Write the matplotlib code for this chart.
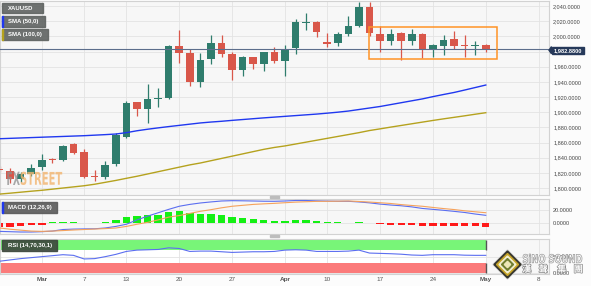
import matplotlib
matplotlib.use("Agg")
import matplotlib.pyplot as plt
import matplotlib.patheffects as pe
import numpy as np
import pandas as pd
from matplotlib.patches import Rectangle, Polygon, PathPatch
from matplotlib.textpath import TextPath
from matplotlib.font_manager import FontProperties
from matplotlib.transforms import Affine2D
from matplotlib.ticker import FuncFormatter

plt.rcParams['font.family'] = ['Liberation Sans', 'DejaVu Sans']

# trading days (Good Friday closed)
calendar = pd.bdate_range("2023-02-23", "2023-05-12").drop(pd.Timestamp("2023-04-07"))

# XAU/USD daily candles, Feb 23 .. May 1
opens = [1825, 1822.8, 1811.4, 1818, 1827.3, 1838, 1837, 1857.6, 1847, 1815.5,
         1814.1, 1831.6, 1867.6, 1913, 1903.8, 1917, 1918.3, 1987.6, 1977.6, 1939.4,
         1969.7, 1991.6, 1976.3, 1955.6, 1972.3, 1963.5, 1978.9, 1967.9, 1984.2, 2018,
         2019.3, 1992.9, 1990.8, 2002.7, 2013.6, 2038.3, 2002.7, 1994.2, 2004, 1994.2,
         2003.1, 1982.9, 1987.6, 1996.1, 1988, 1987, 1988.6]
highs = [1829, 1826.8, 1821, 1831.6, 1844.8, 1840, 1856.5, 1859, 1851, 1823.7,
         1836, 1872, 1915.1, 1914, 1936.7, 1932.3, 1988.5, 2008.4, 1982.9, 1977.6,
         2001.8, 2001.8, 1979.7, 1974.5, 1973, 1980, 1985.5, 1988.6, 2022.9, 2030.4,
         2020, 2004, 2005.3, 2026.8, 2045.7, 2045.7, 2013.6, 2009.3, 2006.1, 2009.3,
         2004, 1989.9, 2001.8, 2007.4, 2001.8, 1993.8, 1989.5]
lows = [1821, 1806.6, 1808, 1816.2, 1823.7, 1833, 1836, 1845, 1812.8, 1809.6,
        1812, 1829, 1866, 1895.3, 1885.3, 1906.4, 1917, 1964.4, 1934.9, 1933.6,
        1963.1, 1973.1, 1942.4, 1947.7, 1956.9, 1954.7, 1965.2, 1947.7, 1976.3, 2008.4,
        1999.5, 1985.5, 1987.6, 2000.4, 2012.7, 2001, 1979.7, 1988.6, 1968.8, 1988.6,
        1971, 1973.1, 1975.4, 1982.9, 1973.1, 1975.4, 1979]
closes = [1824.2, 1811.4, 1818, 1826.4, 1836.9, 1837.3, 1855.4, 1846.5, 1814.9, 1814.3,
          1830.3, 1869.9, 1912.5, 1903.8, 1917.4, 1918.3, 1987.6, 1978.4, 1939.4, 1968.8,
          1991.6, 1976.7, 1955.6, 1972.3, 1963.5, 1978.9, 1967.5, 1982.9, 2018.5, 2019,
          2006.1, 1990.3, 2002.7, 2013.6, 2038.3, 2004, 1994.2, 2003.1, 1993.8, 2003.1,
          1982, 1988.6, 1995.2, 1987.6, 1987, 1988, 1982.88]

sma50 = [1865, 1865.5, 1866, 1866.5, 1867, 1867.5, 1868, 1868.5, 1869, 1869.7,
         1870.4, 1871.2, 1873, 1875.5, 1877.5, 1879.3, 1881, 1882.6, 1884.2, 1885.8,
         1887, 1888, 1889.2, 1890.3, 1891.4, 1892.5, 1893.5, 1894.5, 1895.5, 1896.5,
         1897.5, 1898.7, 1900, 1901.5, 1903.5, 1905.5, 1907.5, 1910, 1912.5, 1915,
         1917.5, 1920.5, 1923.3, 1926, 1929.2, 1932.5, 1935.8]
sma100 = [1792, 1793.2, 1794.5, 1795.8, 1797, 1798.5, 1800, 1801.5, 1803, 1805,
          1807.5, 1810, 1812.8, 1815.5, 1818.5, 1821.5, 1824.5, 1827.5, 1830.5, 1833,
          1836, 1839, 1842, 1845, 1848, 1851, 1853.5, 1855.5, 1858, 1860.5,
          1863, 1865.5, 1868, 1870.5, 1873, 1875.8, 1878, 1880.3, 1882.5, 1884.7,
          1886.9, 1889.1, 1891.2, 1893.2, 1895.2, 1897.3, 1899.3]

macd_line = [-14, -14.5, -15, -15, -14.5, -13.5, -11, -10.3, -10, -9.8,
             -8.5, -6, -2.5, 4.5, 10.5, 16, 21.5, 26.5, 29.5, 31.8,
             33.5, 35, 35.5, 35.3, 35, 34.6, 34.5, 35, 35.8, 35.8,
             35.2, 34.8, 34.5, 34.5, 33.5, 32, 30, 28.5, 27.3, 25.5,
             23, 21.5, 20, 18.3, 16.5, 14, 11.9]
macd_signal = [-8.5, -10.5, -12, -13.5, -14, -13.5, -12.7, -11.8, -11, -10.2,
               -9.5, -8.6, -6, -2.5, 0.5, 4.5, 9, 11.5, 15, 18.4,
               21, 24, 26.5, 28, 29.5, 30.4, 31.2, 32.2, 33.2, 33.8,
               34.4, 34.5, 34.7, 35, 34.2, 33.3, 32.2, 31, 29.2, 27.8,
               26.5, 24.6, 22.8, 21.2, 19.2, 17.6, 16.1]
macd_hist = [-7.5, -7, -5, -4, -3, 0.8, 1.2, 1.0, 0.3, -0.3,
             1.0, 3.8, 9.1, 10.8, 11.8, 12.9, 17.2, 18.3, 15.6, 14.5,
             14.5, 12.9, 9.1, 7.5, 5.4, 3.8, 2.8, 2.2, 3.8, 3.8,
             2.2, 1.0, 0.5, 0.2, 1.2, -0.5, -2.7, -3.2, -3.8, -4.3,
             -5.9, -5.9, -5.9, -5.9, -5.9, -5.9, -6.5]

rsi = [36, 40, 44, 47, 50, 53, 56, 54, 43, 44,
       50, 57, 66, 70, 71, 72, 77, 75, 66, 67,
       67, 65, 63, 64, 65, 65, 66, 70, 71, 70,
       66, 66, 66, 67, 70, 61, 60, 59, 57.5, 55,
       54, 56, 56, 56, 54.5, 54, 54]

last_price = 1982.88
box_days = ("2023-04-14", "2023-05-02")
box_prices = (1969.7, 2011.8)

tick_dates = ["2023-03-01", "2023-03-07", "2023-03-13", "2023-03-20", "2023-03-27",
              "2023-04-03", "2023-04-10", "2023-04-17", "2023-04-24", "2023-05-01", "2023-05-08"]
tick_labels = ["Mar", "7", "13", "20", "27", "Apr", "10", "17", "24", "May", "8"]

GREEN = "#2f7d6d"
RED = "#d9574a"
GRID = "#e3e3e3"
SPINE = "#d2d2d2"

x = np.arange(len(closes))
tick_pos = [calendar.get_loc(pd.Timestamp(d)) for d in tick_dates]

fig = plt.figure(figsize=(5.91, 2.86), dpi=100, facecolor="#fcfcfc")
W, H = 591.0, 286.0


def panel(top, bottom):
    return fig.add_axes([0, 1 - bottom / H, 549 / W, (bottom - top) / H], facecolor="#f7f7f7")


ax = panel(1, 195)
ax2 = panel(198.7, 234.3)
ax3 = panel(238.7, 273.7)

for a in (ax, ax2, ax3):
    a.set_xlim(0.045, 51.98)
    a.set_xticks(tick_pos)
    a.grid(True, color=GRID, lw=0.6)
    a.set_axisbelow(True)
    a.yaxis.tick_right()
    a.tick_params(length=0, labelsize=4, labelcolor="#444", pad=3)
    for s in a.spines.values():
        s.set_color(SPINE)
        s.set_linewidth(0.8)
for a in (ax, ax2):
    a.tick_params(axis="x", labelbottom=False)

# --- price panel ---
up = np.array(closes) >= np.array(opens)
cols = [GREEN if u else RED for u in up]
bottoms = np.minimum(opens, closes)
heights = np.maximum(np.abs(np.array(closes) - np.array(opens)), 0.9)
ax.vlines(x, lows, highs, colors=cols, lw=0.9, zorder=2)
ax.bar(x, heights, bottom=bottoms, width=0.72, color=cols, lw=0, zorder=3)

ax.plot(x, sma50, color="#2038f0", lw=1.0, zorder=4)
ax.plot(x, sma100, color="#b5a21e", lw=1.0, zorder=4)
ax.axhline(last_price, color="#5c6e8c", lw=0.8, zorder=4)

b0 = calendar.get_loc(pd.Timestamp(box_days[0])) - 0.05
b1 = calendar.get_loc(pd.Timestamp(box_days[1])) + 0.07
ax.add_patch(Rectangle((b0, box_prices[0]), b1 - b0, box_prices[1] - box_prices[0],
                       fill=False, edgecolor="#ff9326", lw=1.1, zorder=5))

ax.set_ylim(1790.8, 2046.6)
ax.set_yticks(np.arange(1800, 2041, 20))
# the 1,980 label sits under the last-price tag
ax.yaxis.set_major_formatter(FuncFormatter(lambda v, p: "" if abs(v - 1980) < 1 else f"{v:,.4f}"))

# --- MACD panel ---
ax2.bar(x, macd_hist, width=0.7, color=["#14f014" if v >= 0 else "#ff1a1a" for v in macd_hist],
        lw=0, zorder=2)
ax2.plot(x, macd_line, color="#5b6ef0", lw=0.8, zorder=3)
ax2.plot(x, macd_signal, color="#f5a25c", lw=0.8, zorder=3)
ax2.set_ylim(-18.7, 38.7)
ax2.set_yticks([0, 20])
ax2.yaxis.set_major_formatter(FuncFormatter(lambda v, p: f"{v:.4f}"))

# --- RSI panel ---
xe = [0, x[-1]]
ax3.fill_between(xe, 30, 70, color="white", lw=0, zorder=0.2)
ax3.fill_between(xe, 70, 100, color="#78f578", lw=0, zorder=1)
ax3.fill_between(xe, 0, 30, color="#fb7b7b", lw=0, zorder=1)
ax3.vlines([x[-1], x[-1]], [0, 70], [30, 100], color="#555555", lw=1.0, zorder=2)
ax3.plot(x, rsi, color="#5b6ef0", lw=0.8, zorder=3)
ax3.set_ylim(-2.1, 104.9)
ax3.set_yticks([0, 50])
ax3.yaxis.set_major_formatter(FuncFormatter(lambda v, p: f"{v:.4f}"))
ax3.set_xticklabels(tick_labels)
ax3.tick_params(axis="x", labelsize=4.6, labelcolor="#555", pad=2.5)
for lbl in ax3.get_xticklabels():
    if not lbl.get_text().isdigit():
        lbl.set_fontweight("bold")

# --- overlay in pixel coordinates for labels and watermarks ---
ov = fig.add_axes([0, 0, 1, 1], zorder=10)
ov.set_xlim(0, W)
ov.set_ylim(H, 0)
ov.axis("off")


def tag(x0, y0, w, h, text, bg, stripe=None):
    ov.add_patch(Rectangle((x0, y0), w, h, color=bg, alpha=0.9))
    if stripe:
        ov.add_patch(Rectangle((x0, y0), 1.3, h, color=stripe))
    ov.text(x0 + 6.5, y0 + h / 2 + 0.3, text, color="white", fontsize=4.3,
            fontweight="bold", va="center", ha="left")


tag(1.7, 2.7, 41, 10.6, "XAUUSD", "#5f6361")
tag(1.7, 16, 43.3, 10.7, "SMA (50,0)", "#5f6361", "#2038f0")
tag(1.7, 29.3, 46.3, 10.7, "SMA (100,0)", "#5f6361", "#b5a21e")
tag(1.7, 202, 55.6, 10.7, "MACD (12,26,9)", "#5a5a5a", "#2038f0")
tag(1.7, 240.3, 55.6, 10.7, "RSI (14,70,30,1)", "#3c463c")

# panel resize handles
for yy in (195.8, 234.8):
    ov.add_patch(Rectangle((270, yy), 9, 2.4, color="#bdbdbd"))

# current price tag
ov.add_patch(Polygon([(549, 50.2), (551.5, 46.6), (551.5, 53.8)], color="#26395a"))
ov.add_patch(Rectangle((551.5, 46.6), 32, 7.2, color="#26395a"))
ov.text(567.5, 50.4, "1,982.8800", color="white", fontsize=4.1, fontweight="bold",
        ha="center", va="center")


def stretched(txt, x0, ytop, w, h, face, edge="none", lw=0, alpha=1.0, weight="bold"):
    tp = TextPath((0, 0), txt, size=10, prop=FontProperties(family="DejaVu Sans", weight=weight))
    bb = tp.get_extents()
    tr = Affine2D().translate(-bb.x0, -bb.y0).scale(w / bb.width, -h / bb.height).translate(x0, ytop + h)
    ov.add_patch(PathPatch(tr.transform_path(tp), facecolor=face, edgecolor=edge, lw=lw, alpha=alpha))


# FXStreet watermark
stretched("FX", 7.3, 171.7, 12.5, 13.3, "#8e8e8e", alpha=0.75)
stretched("STREET", 20.7, 171.7, 41.5, 13.3, "#f2b46e", alpha=0.8)

# Sino Sound logo
cx, cy = 507.5, 264.5
for r, c in [(14.5, "#cfcfcf"), (13.5, "#34332b"), (11, "#c6a428"), (8.5, "#f2efd2"),
             (6, "#6f7d30"), (3.2, "#ece7b8")]:
    ov.add_patch(Polygon([(cx, cy - r), (cx + r, cy), (cx, cy + r), (cx - r, cy)], color=c))
stretched("SiNO SOUND", 523, 254, 59, 9, "white", edge="#9a9a9a", lw=0.5)
for ch, xx in zip("漢聲集團", [526.7, 543.3, 561.7, 578.3]):
    ov.text(xx, 269.5, ch, fontsize=6.5, color="white", ha="center", va="center",
            family=["Noto Sans CJK TC", "DejaVu Sans"], fontweight="bold",
            path_effects=[pe.withStroke(linewidth=1.0, foreground="#8c8c8c")])

fig.savefig("out.png", dpi=100, facecolor=fig.get_facecolor())
